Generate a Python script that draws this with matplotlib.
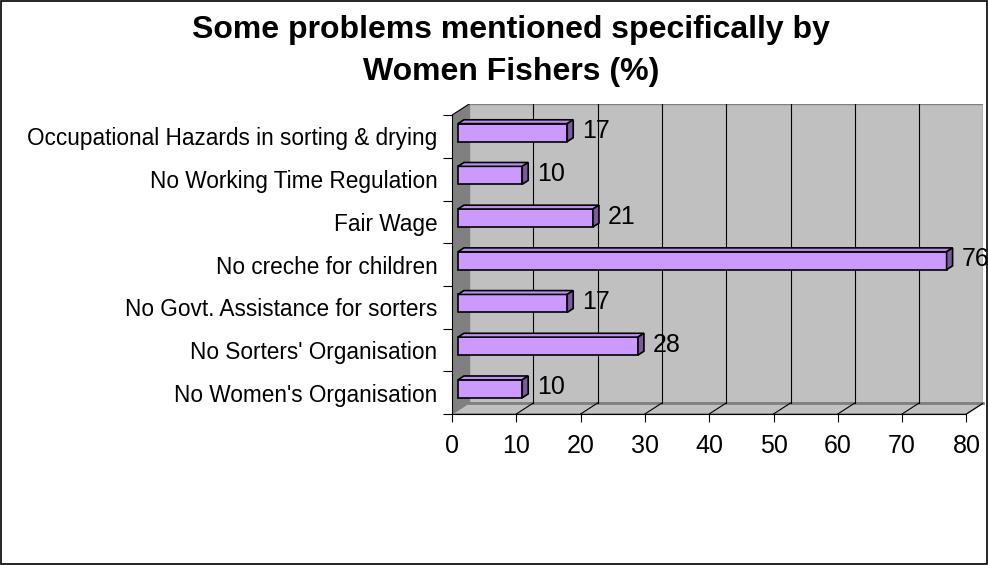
import matplotlib
matplotlib.use("Agg")
import matplotlib.pyplot as plt
from matplotlib.patches import Polygon, Rectangle

# ---- data (bottom to top, as Excel plots categories) ----
categories = ["No Women's Organisation",
              "No Sorters' Organisation",
              "No Govt. Assistance for sorters",
              "No creche for children",
              "Fair Wage",
              "No Working Time Regulation",
              "Occupational Hazards in sorting & drying"]
values = [10, 28, 17, 76, 21, 10, 17]
x_ticks = [0, 10, 20, 30, 40, 50, 60, 70, 80]
title = "Some problems mentioned specifically by\nWomen Fishers (%)"

# ---- layout (pixels) ----
W, H = 988, 565
px_x = 6.43        # px per value unit
px_y = 42.7        # px per category
x0_px, y0_px = 452, 414
depth_px = (17, 11)
xmax = x_ticks[-1]
ncat = len(categories)

DX = depth_px[0] / px_x
DY = depth_px[1] / px_y
xlim_r = xmax + DX
ylim_t = ncat + DY

fig = plt.figure(figsize=(W / 100, H / 100), dpi=100)
fig.patch.set_facecolor("white")
ax_w = xlim_r * px_x
ax_h = ylim_t * px_y
ax = fig.add_axes([x0_px / W, (H - y0_px) / H, ax_w / W, ax_h / H])
ax.set_xlim(0, xlim_r)
ax.set_ylim(0, ylim_t)
ax.set_facecolor("none")

FONT = "Liberation Sans"
silver = "#C0C0C0"
dgray = "#808080"

# back wall
ax.add_patch(Polygon([(DX, DY), (xmax + DX, DY), (xmax + DX, ncat + DY), (DX, ncat + DY)],
                     closed=True, facecolor=silver, edgecolor=dgray, lw=1.0, zorder=1))
# floor
ax.add_patch(Polygon([(0, 0), (xmax, 0), (xmax + DX, DY), (DX, DY)],
                     closed=True, facecolor=silver, edgecolor=dgray, lw=1.0, zorder=1))
ax.plot([DX, xmax + DX], [DY, DY], color=dgray, lw=2.0, zorder=1.5, clip_on=False)
# left wall
ax.add_patch(Polygon([(0, 0), (DX, DY), (DX, ncat + DY), (0, ncat)],
                     closed=True, facecolor=dgray, edgecolor="none", zorder=1.2))
ax.plot([0, DX], [ncat, ncat + DY], color="black", lw=0.8, zorder=2)

# gridlines on back wall and floor
for t in x_ticks[1:-1]:
    ax.plot([t + DX, t + DX], [DY, ncat + DY], color="black", lw=0.8, zorder=2)
for t in x_ticks[1:]:
    ax.plot([t, t + DX], [0, DY], color="black", lw=0.8, zorder=2)

# bars (3D look)
f1 = 0.35
bd = 0.35
bar_h = 0.42
front = "#CC99FF"
topc = "#C18EF5"
side = "#7A5C9E"
for i, v in enumerate(values):
    yc = i + 0.5 + f1 * DY
    xl = f1 * DX
    yb, yt = yc - bar_h / 2, yc + bar_h / 2
    bdx, bdy = bd * DX, bd * DY
    ax.barh(yc, v, left=xl, height=bar_h, color=front, edgecolor="black", lw=1.2, zorder=4)
    ax.add_patch(Polygon([(xl, yt), (xl + v, yt), (xl + v + bdx, yt + bdy), (xl + bdx, yt + bdy)],
                         closed=True, facecolor=topc, edgecolor="black", lw=1.2, zorder=4))
    ax.add_patch(Polygon([(xl + v, yb), (xl + v + bdx, yb + bdy), (xl + v + bdx, yt + bdy), (xl + v, yt)],
                         closed=True, facecolor=side, edgecolor="black", lw=1.2, zorder=4))
    ax.annotate(f"{v}", xy=(xl + v + bdx, yc), xytext=(6.5, 1.0), textcoords="offset points",
                ha="left", va="center", fontsize=18, family=FONT, zorder=5,
                annotation_clip=False)

# spines / axes
for s in ["top", "right"]:
    ax.spines[s].set_visible(False)
ax.spines["left"].set_bounds(0, ncat)
ax.spines["bottom"].set_bounds(0, xmax)
ax.spines["left"].set_linewidth(0.8)
ax.spines["bottom"].set_linewidth(0.8)
ax.spines["left"].set_zorder(3)
ax.spines["bottom"].set_zorder(3)

ax.set_xticks(x_ticks)
ax.set_xticklabels([str(t) for t in x_ticks], fontsize=18, family=FONT)
ax.tick_params(axis="x", length=6, width=0.8, pad=8.5, direction="out")

ax.set_yticks(range(ncat + 1))
ax.set_yticklabels([])
ax.tick_params(axis="y", which="major", length=6.5, width=0.8, direction="out")
ax.set_yticks([i + 0.5 for i in range(ncat)], minor=True)
ax.set_yticklabels(categories, minor=True, fontsize=16.3, family=FONT)
ax.tick_params(axis="y", which="minor", length=0, pad=10.5)

# title
fig.text(511 / W, 1 - 51 / H, title, ha="center", va="center", fontsize=23,
         fontweight="bold", family=FONT, linespacing=1.5)

# chart-area border
fig.add_artist(Rectangle((0.001, 0.001), 0.998, 0.997, transform=fig.transFigure,
                         fill=False, edgecolor="black", lw=1.2))

fig.savefig("out.png", dpi=100)
